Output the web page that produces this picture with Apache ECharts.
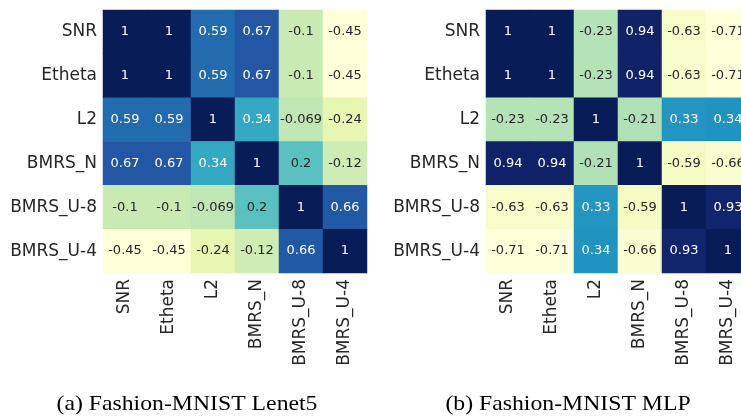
<!DOCTYPE html>
<html>
<head>
<meta charset="utf-8">
<script src="https://cdn.jsdelivr.net/npm/echarts@6/dist/echarts.min.js"></script>
<style>html,body{margin:0;padding:0;background:#fff;}#c{width:741px;height:416px;}</style>
</head>
<body>
<div id="c"></div>
<script>
const categories = ['SNR', 'Etheta', 'L2', 'BMRS_N', 'BMRS_U-8', 'BMRS_U-4'];
const lenetValues = [
  [1, 1, 0.59, 0.67, -0.1, -0.45],
  [1, 1, 0.59, 0.67, -0.1, -0.45],
  [0.59, 0.59, 1, 0.34, -0.069, -0.24],
  [0.67, 0.67, 0.34, 1, 0.2, -0.12],
  [-0.1, -0.1, -0.069, 0.2, 1, 0.66],
  [-0.45, -0.45, -0.24, -0.12, 0.66, 1]
];
const mlpValues = [
  [1, 1, -0.23, 0.94, -0.63, -0.71],
  [1, 1, -0.23, 0.94, -0.63, -0.71],
  [-0.23, -0.23, 1, -0.21, 0.33, 0.34],
  [0.94, 0.94, -0.21, 1, -0.59, -0.66],
  [-0.63, -0.63, 0.33, -0.59, 1, 0.93],
  [-0.71, -0.71, 0.34, -0.66, 0.93, 1]
];
const captions = ['(a) Fashion-MNIST Lenet5', '(b) Fashion-MNIST MLP'];

const palette = ['#ffffd9', '#edf8b1', '#c7e9b4', '#7fcdbb', '#41b6c4', '#1d91c0', '#225ea8', '#253494', '#081d58'];

function hexToRgb(h) { return [1,3,5].map(i => parseInt(h.substr(i,2),16)); }
function cmap(t) {
  t = Math.max(0, Math.min(1, t));
  const p = t * (palette.length - 1);
  const i = Math.min(Math.floor(p), palette.length - 2);
  const f = p - i;
  const a = hexToRgb(palette[i]), b = hexToRgb(palette[i+1]);
  return a.map((v,k) => v + (b[k]-v)*f);
}
function lum(rgb) {
  const c = rgb.map(v => { v /= 255; return v <= 0.03928 ? v/12.92 : Math.pow((v+0.055)/1.055, 2.4); });
  return 0.2126*c[0] + 0.7152*c[1] + 0.0722*c[2];
}
function buildData(mat) {
  let mn = Infinity, mx = -Infinity;
  mat.forEach(r => r.forEach(v => { mn = Math.min(mn, v); mx = Math.max(mx, v); }));
  const data = [];
  mat.forEach((row, yi) => row.forEach((v, xi) => {
    const col = cmap((v - mn) / (mx - mn));
    data.push({ value: [xi, yi, v], label: { color: lum(col) > 0.408 ? '#262626' : '#ffffff' } });
  }));
  return { data, mn, mx };
}
const d0 = buildData(lenetValues);
const d1 = buildData(mlpValues);

const grids = [
  { left: 103, top: 10, width: 264, height: 263, outerBoundsMode: 'none', containLabel: false },
  { left: 486, top: 10, width: 264, height: 263, outerBoundsMode: 'none', containLabel: false }
];
function xAx(i) {
  return { type: 'category', gridIndex: i, data: categories, position: 'bottom',
    axisLine: { show: false }, axisTick: { show: false }, splitLine: { show: false },
    axisLabel: { rotate: 90, margin: 6, fontSize: 17, color: '#262626', fontFamily: 'DejaVu Sans', interval: 0 } };
}
function yAx(i) {
  return { type: 'category', gridIndex: i, data: categories, inverse: true,
    axisLine: { show: false }, axisTick: { show: false }, splitLine: { show: false },
    axisLabel: { margin: 6, fontSize: 17, color: '#262626', fontFamily: 'DejaVu Sans', interval: 0 } };
}
function ser(i, d) {
  return { type: 'heatmap', xAxisIndex: i, yAxisIndex: i, data: d.data,
    label: { show: true, fontSize: 13, fontFamily: 'DejaVu Sans', formatter: p => String(p.value[2]) },
    itemStyle: { borderWidth: 0 }, emphasis: { disabled: true } };
}
const chart = echarts.init(document.getElementById('c'), null, { renderer: 'canvas' });
chart.setOption({
  animation: false,
  grid: grids,
  xAxis: [xAx(0), xAx(1)],
  yAxis: [yAx(0), yAx(1)],
  visualMap: [
    { show: false, type: 'continuous', seriesIndex: 0, dimension: 2, min: d0.mn, max: d0.mx, inRange: { color: palette } },
    { show: false, type: 'continuous', seriesIndex: 1, dimension: 2, min: d1.mn, max: d1.mx, inRange: { color: palette } }
  ],
  series: [ser(0, d0), ser(1, d1)],
  graphic: [
    { type: 'text', x: 187, y: 404, scaleX: 1.13, style: { text: captions[0], font: '21px "Liberation Serif"', fill: '#000', align: 'center', verticalAlign: 'middle' } },
    { type: 'text', x: 568, y: 404, scaleX: 1.13, style: { text: captions[1], font: '21px "Liberation Serif"', fill: '#000', align: 'center', verticalAlign: 'middle' } }
  ]
});
</script>
</body>
</html>
